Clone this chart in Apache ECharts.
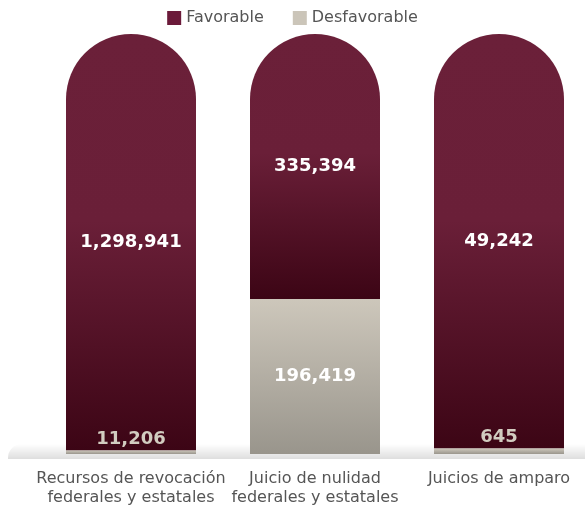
<!DOCTYPE html>
<html><head><meta charset="utf-8">
<script src="https://cdn.jsdelivr.net/npm/echarts@6/dist/echarts.min.js"></script>
<style>html,body{margin:0;padding:0;background:#fff}#c{width:585px;height:507px}</style>
</head><body><div id="c"></div>
<script>
const categories = ['Recursos de revocación\nfederales y estatales', 'Juicio de nulidad\nfederales y estatales', 'Juicios de amparo'];
const favorable = [1298941, 335394, 49242];
const desfavorable = [11206, 196419, 645];
const seriesNames = ['Favorable', 'Desfavorable'];

const totals = favorable.map((v, i) => v + desfavorable[i]);
const pct = (arr) => arr.map((v, i) => v / totals[i] * 100);
const fmt = (v) => v.toLocaleString('en-US');

const favGrad = new echarts.graphic.LinearGradient(0, 0, 0, 1, [
  {offset: 0, color: '#6b2039'}, {offset: 0.45, color: '#6a1f38'}, {offset: 1, color: '#3c0515'}]);
const desGrad = new echarts.graphic.LinearGradient(0, 0, 0, 1, [
  {offset: 0, color: '#cdc7bb'}, {offset: 1, color: '#99958c'}]);

const chart = echarts.init(document.getElementById('c'));
const favPct = pct(favorable), desPct = pct(desfavorable);
chart.setOption({
  animation: false,
  legend: {
    top: 5, left: 'center', itemWidth: 14, itemHeight: 14, itemGap: 29,
    icon: 'rect',
    textStyle: {color: '#555', fontSize: 16, fontFamily: 'DejaVu Sans'},
    data: [{name: seriesNames[0], itemStyle: {color: '#6b1a3a'}}, {name: seriesNames[1], itemStyle: {color: '#cbc5b9'}}]
  },
  graphic: [{
    type: 'rect', z: 0, silent: true,
    shape: {x: 8, y: 444, width: 590, height: 15, r: [14, 0, 0, 0]},
    style: {fill: new echarts.graphic.LinearGradient(0, 0, 0, 1, [
      {offset: 0, color: 'rgba(0,0,0,0)'}, {offset: 1, color: 'rgba(0,0,0,0.13)'}])}
  }],
  grid: {left: 131, right: 86, top: 34, bottom: 52},
  xAxis: {
    type: 'category', data: categories, boundaryGap: false,
    axisLine: {show: false}, axisTick: {show: false},
    axisLabel: {interval: 0, hideOverlap: false, color: '#555', fontSize: 16, fontFamily: 'DejaVu Sans', lineHeight: 19, margin: 15}
  },
  yAxis: {type: 'value', min: 0, max: 100, show: false, splitLine: {show: false}},
  series: [
    {
      name: seriesNames[1], type: 'bar', stack: 't', barWidth: 130, z: 3,
      itemStyle: {color: desGrad},
      data: desPct.map((v, i) => ({
        value: v,
        label: i === 1
          ? {show: true, position: 'inside', color: '#fff'}
          : {show: true, position: 'top', distance: 2, color: '#d2ccc0'}
      })),
      label: {show: true, fontFamily: 'DejaVu Sans', fontWeight: 'bold', fontSize: 18,
        formatter: (p) => fmt(desfavorable[p.dataIndex])}
    },
    {
      name: seriesNames[0], type: 'bar', stack: 't', barWidth: 130, z: 2,
      itemStyle: {color: favGrad, borderRadius: [100, 100, 0, 0]},
      data: favPct,
      label: {show: true, position: 'inside', color: '#fff', fontFamily: 'DejaVu Sans', fontWeight: 'bold', fontSize: 18,
        formatter: (p) => fmt(favorable[p.dataIndex])}
    }
  ]
});
</script></body></html>
